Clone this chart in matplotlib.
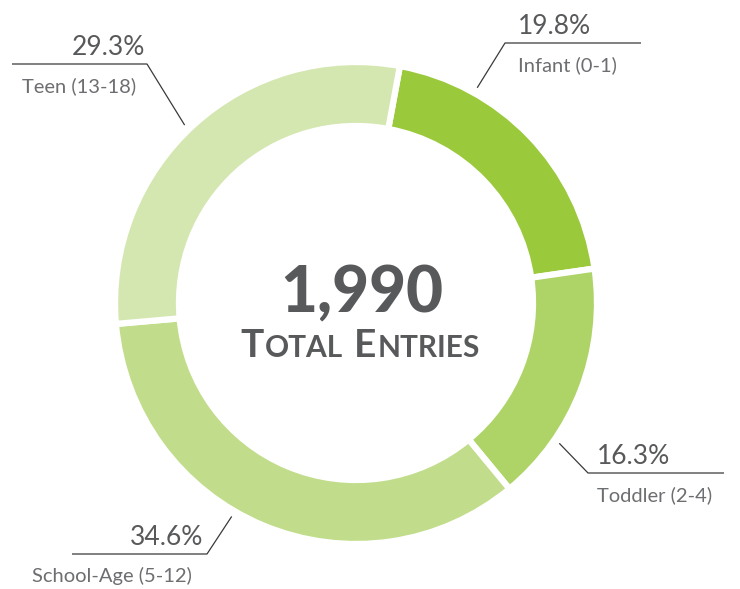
import matplotlib
matplotlib.use("Agg")
import matplotlib.pyplot as plt
import numpy as np

# Age-group share of total entries
categories = ["Infant (0-1)", "Toddler (2-4)", "School-Age (5-12)", "Teen (13-18)"]
shares = [19.8, 16.3, 34.6, 29.3]
total_entries = 1990
colors = ["#9bc93c", "#aed468", "#c1dd8b", "#d5e7b1"]

W, H = 740, 589
fig = plt.figure(figsize=(W / 100, H / 100), dpi=100)
ax = fig.add_axes([0, 0, 1, 1])

cx, cy = 356, H - 303
R_out, width = 241, 64
start = 79.5

ax.pie(shares, colors=colors, startangle=start, counterclock=False,
       radius=R_out, center=(cx, cy), frame=True,
       wedgeprops=dict(width=width, edgecolor="white", linewidth=4.5))
ax.set_xlim(0, W)
ax.set_ylim(0, H)
ax.set_aspect("equal")
ax.axis("off")

dark = "#58595b"
label_gray = "#6d6e71"
FONT = "Lato"

# wedge boundaries (degrees, clockwise from start)
bounds = start - 360 * np.cumsum([0] + shares) / 100.0

# leader layout: position within wedge, elbow (x, y from top), shelf end x,
# side, x of the percentage text edge, x of the category label start
leaders = [
    (0.265, (505, 43), 641, "right", 518, 518),
    (0.73, (588, 473), 724, "right", 597, 597),
    (0.56, (207, 554), 72, "left", 203, 32),
    (0.484, (147, 64), 12, "left", 145, 22),
]

r_anchor = 247
for i, (frac, (ex, ey), shelf_x, side, pct_x, lab_x) in enumerate(leaders):
    a0, a1 = bounds[i], bounds[i + 1]
    ang = np.deg2rad(a0 + (a1 - a0) * frac)
    px, py = cx + r_anchor * np.cos(ang), cy + r_anchor * np.sin(ang)
    ey_ = H - ey
    ax.plot([px, ex, shelf_x], [py, ey_, ey_], color="#3a3a3a", lw=0.9,
            solid_capstyle="butt")
    pct = f"{shares[i]:.1f}%"
    ax.text(pct_x, ey_ + 9, pct, ha="left" if side == "right" else "right",
            va="baseline", fontsize=19, color=dark, family=FONT)
    ax.text(lab_x, ey_ - 22, categories[i], ha="left", va="center",
            fontsize=14.5, color=label_gray, family=FONT)

# center total
ax.text(cx + 6, H - 312, f"{total_entries:,}", ha="center", va="baseline",
        fontsize=46, fontweight="black", color=dark, family=FONT)

# small-caps subtitle
parts = [("T", 28), ("OTAL", 21.5), ("E", 28), ("NTRIES", 21.5)]
gaps = [1.5, 10, 1.5, 0]
fig.canvas.draw()
renderer = fig.canvas.get_renderer()
texts = []
for s, fs in parts:
    t = ax.text(0, H - 357, s, ha="left", va="baseline", fontsize=fs,
                fontweight="bold", color=dark, family=FONT)
    texts.append(t)
widths = [t.get_window_extent(renderer=renderer).width for t in texts]
total_w = sum(widths) + sum(gaps)
x = cx + 4 - total_w / 2
for t, w, g in zip(texts, widths, gaps):
    t.set_x(x)
    x += w + g

fig.savefig("out.png", dpi=100)
